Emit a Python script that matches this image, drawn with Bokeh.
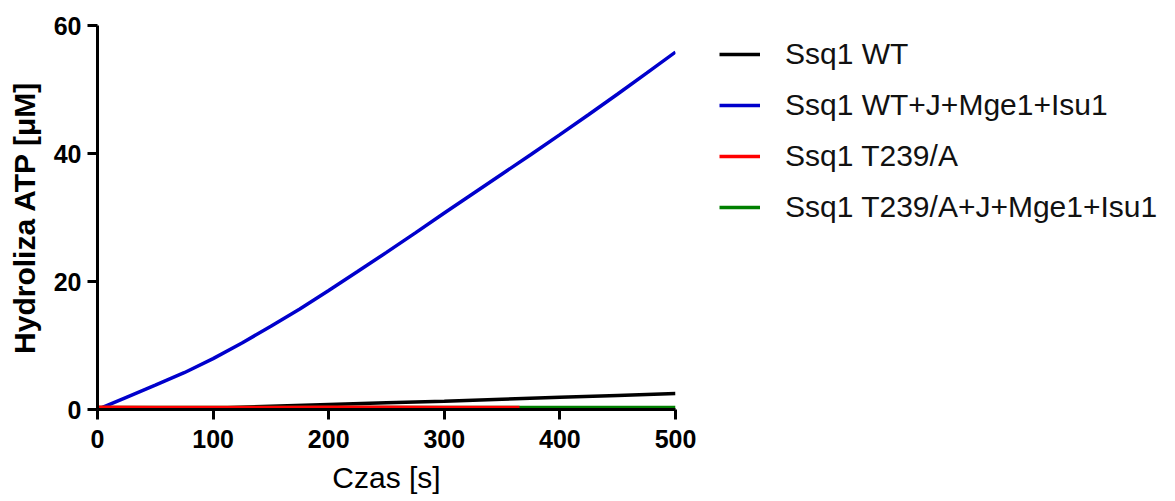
from bokeh.plotting import figure
from bokeh.models import Range1d, Legend, LegendItem
from bokeh.embed import file_html
from bokeh.resources import INLINE

# Data
blue_x = [0, 25, 50, 75, 100, 125, 150, 175, 200, 225, 250, 275, 300, 325, 350, 375, 400, 425, 450, 475, 500]
blue_y = [0, 1.9, 3.8, 5.75, 7.95, 10.4, 13.0, 15.7, 18.6, 21.55, 24.55, 27.6, 30.7, 33.75, 36.8, 39.85, 42.95, 46.1, 49.3, 52.55, 55.85]
black_x = [0, 50, 100, 150, 200, 250, 300, 350, 400, 450, 500]
black_y = [0, 0.05, 0.2, 0.5, 0.8, 1.05, 1.3, 1.6, 1.9, 2.2, 2.5]
red_x = [0, 50, 100, 150, 200, 250, 300, 365]
red_y = [0.35, 0.3, 0.3, 0.3, 0.35, 0.35, 0.3, 0.3]
green_x = [0, 100, 200, 300, 400, 500]
green_y = [0.3, 0.3, 0.3, 0.3, 0.3, 0.3]

labels = ["Ssq1 WT", "Ssq1 WT+J+Mge1+Isu1", "Ssq1 T239/A", "Ssq1 T239/A+J+Mge1+Isu1"]
x_ticks = [0, 100, 200, 300, 400, 500]
y_ticks = [0, 20, 40, 60]

FONT = "Liberation Sans"

p = figure(frame_width=578, frame_height=384, output_backend="svg", toolbar_location=None,
           x_range=Range1d(0, 500), y_range=Range1d(0, 60),
           min_border_left=97, min_border_top=25, min_border_bottom=84, min_border_right=0)
p.outline_line_color = None
p.grid.visible = False
p.background_fill_color = "white"

r_black = p.line(black_x, black_y, line_color="black", line_width=3.5)
r_blue = p.line(blue_x, blue_y, line_color="#0000cc", line_width=3.5)
r_green = p.line(green_x, green_y, line_color="#008000", line_width=3.5)
r_red = p.line(red_x, red_y, line_color="#ff0000", line_width=3.5)

for ax in (p.xaxis[0], p.yaxis[0]):
    ax.axis_line_width = 3
    ax.major_tick_line_width = 3
    ax.major_tick_out = 10
    ax.major_tick_in = 0
    ax.minor_tick_line_color = None
    ax.major_label_text_font = FONT
    ax.major_label_text_font_style = "bold"
    ax.major_label_text_font_size = "25px"
    ax.major_label_text_color = "black"
    ax.axis_label_text_font = FONT
    ax.axis_label_text_font_size = "30px"
    ax.axis_label_text_color = "black"

p.xaxis.ticker = x_ticks
p.yaxis.ticker = y_ticks
p.xaxis.axis_label = "Czas [s]"
p.xaxis.axis_label_text_font_style = "normal"
p.xaxis.major_label_standoff = 10
p.xaxis.axis_label_standoff = 10
p.yaxis.axis_label = "Hydroliza ATP [μM]"
p.yaxis.axis_label_text_font_style = "bold"
p.yaxis.major_label_standoff = 6
p.yaxis.axis_label_standoff = 10

legend = Legend(items=[
    LegendItem(label=labels[0], renderers=[r_black]),
    LegendItem(label=labels[1], renderers=[r_blue]),
    LegendItem(label=labels[2], renderers=[r_red]),
    LegendItem(label=labels[3], renderers=[r_green]),
], location=(44, 185))
legend.border_line_color = None
legend.background_fill_alpha = 0
legend.label_text_font = FONT
legend.label_text_font_size = "30px"
legend.label_text_color = "#111111"
legend.glyph_width = 41
legend.glyph_height = 30
legend.label_height = 30
legend.spacing = 17
legend.padding = 0
legend.margin = 0
legend.label_standoff = 25
p.add_layout(legend, "right")

open("out.html", "w").write(file_html(p, INLINE))
